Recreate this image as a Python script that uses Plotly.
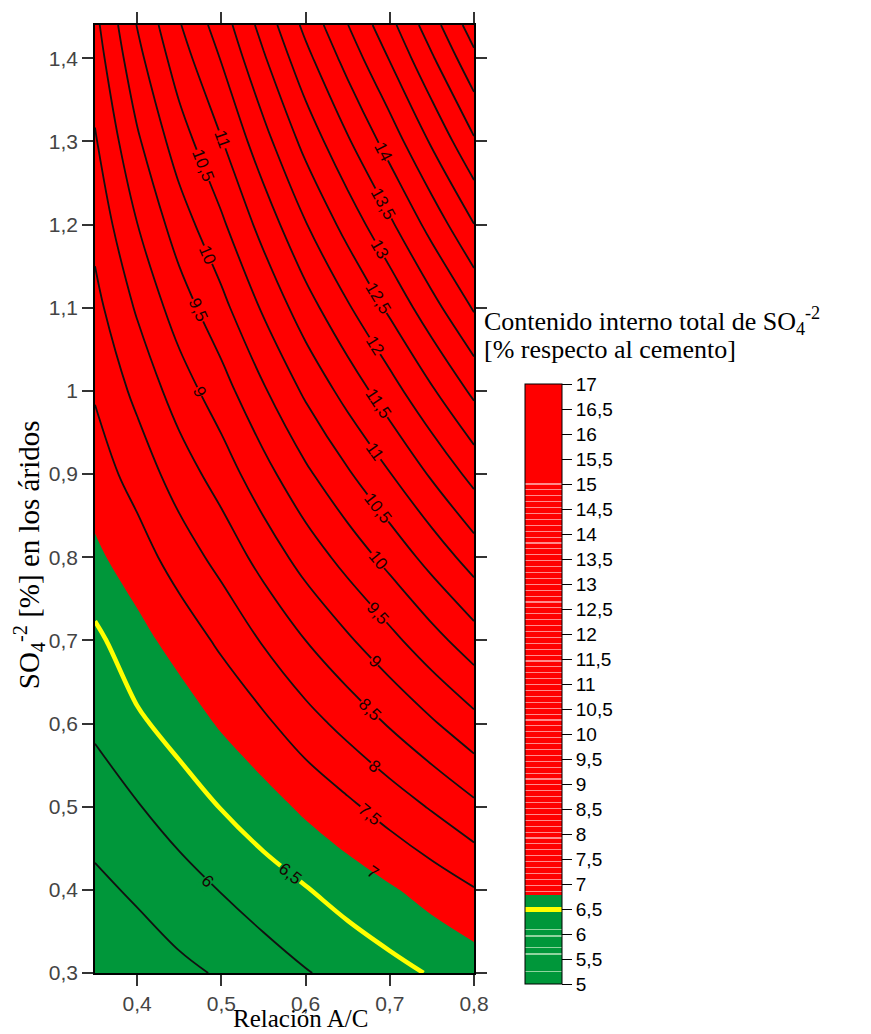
import numpy as np
import plotly.graph_objects as go

# ---- data ----
ac_ratio = [0.35, 0.40, 0.45, 0.50, 0.55, 0.60, 0.65, 0.70, 0.75, 0.80]
so4_aggr = [0.30, 0.40, 0.50, 0.60, 0.70, 0.80, 0.90, 1.00, 1.10, 1.20, 1.30, 1.40, 1.44]
so4_total = [
    [5.00, 5.20, 5.39, 5.55, 5.76, 5.97, 6.16, 6.34, 6.54, 6.72],
    [5.38, 5.58, 5.80, 6.02, 6.25, 6.47, 6.70, 6.94, 7.20, 7.47],
    [5.75, 5.97, 6.23, 6.52, 6.79, 7.10, 7.40, 7.72, 8.05, 8.40],
    [6.08, 6.41, 6.71, 7.06, 7.40, 7.80, 8.17, 8.55, 8.94, 9.34],
    [6.38, 6.83, 7.20, 7.60, 8.05, 8.50, 8.93, 9.36, 9.82, 10.28],
    [6.90, 7.27, 7.73, 8.17, 8.69, 9.21, 9.69, 10.17, 10.69, 11.23],
    [7.25, 7.70, 8.24, 8.73, 9.32, 9.90, 10.44, 10.98, 11.57, 12.17],
    [7.55, 8.13, 8.74, 9.29, 9.94, 10.59, 11.19, 11.79, 12.44, 13.11],
    [7.85, 8.56, 9.25, 9.85, 10.57, 11.28, 11.94, 12.60, 13.32, 14.05],
    [8.15, 8.99, 9.75, 10.41, 11.19, 11.97, 12.69, 13.41, 14.19, 14.99],
    [8.45, 9.42, 10.26, 10.97, 11.82, 12.66, 13.44, 14.22, 15.07, 15.94],
    [8.75, 9.85, 10.76, 11.53, 12.44, 13.35, 14.19, 15.03, 15.94, 16.88],
    [8.87, 10.02, 10.96, 11.75, 12.69, 13.63, 14.49, 15.35, 16.29, 17.26],
]
x_ticks = [0.4, 0.5, 0.6, 0.7, 0.8]
limit_value = 7.0        # green / red threshold
yellow_level = 6.5
cbar_min, cbar_max = 5, 17

# contour labels as they appear in the picture: (level, A/C where the label sits)
labels_left = [(11, 0.501), (10.5, 0.478), (10, 0.484), (9.5, 0.472), (9, 0.474)]
labels_right = [(14, 0.692), (13.5, 0.692), (13, 0.688), (12.5, 0.686), (12, 0.682),
                (11.5, 0.686), (11, 0.682), (10.5, 0.686), (10, 0.686), (9.5, 0.686),
                (9, 0.682), (8.5, 0.676), (8, 0.682), (7.5, 0.676), (7, 0.680)]
labels_low = [(6.5, 0.581), (6, 0.484)]

GREEN = "#00973a"
RED = "#ff0000"
SERIF = "Times New Roman, Liberation Serif, serif"
SANS = "Arial, Liberation Sans, sans-serif"

xs = np.array(ac_ratio)
ys = np.array(so4_aggr)
Z = np.array(so4_total)

# ---------- colour bar scale (discrete look, faint separators, yellow mark) ----------
def frac(v):
    return (v - cbar_min) / (cbar_max - cbar_min)

cb_top_green = 6.78
green_lines = [5.25, 5.6, 5.73, 5.96, 6.09]
red_lines = list(np.arange(15.0, 6.85, -0.118))
hw = 0.011
events = [(v - hw, v + hw, "#8fd49e") for v in green_lines]
events += [(v - hw, v + hw, "#ff8a8a") for v in red_lines]
events.append((6.45, 6.55, "#ffff00"))
events.sort()

def base(v):
    return GREEN if v < cb_top_green else RED

cs = []
cur = cbar_min
for a, b, col in events:
    if a > cur:
        if cur < cb_top_green < a:
            cs += [[frac(cur), GREEN], [frac(cb_top_green), GREEN],
                   [frac(cb_top_green), RED], [frac(a), RED]]
        else:
            cs += [[frac(cur), base(cur)], [frac(a), base(cur)]]
    cs += [[frac(a), col], [frac(b), col]]
    cur = b
if cur < cbar_max:
    cs += [[frac(cur), base(cur)], [1.0, base(cur)]]
cs[0][0] = 0.0
cs[-1][0] = 1.0

fig = go.Figure()

# two-colour fill: green below the limit, red above (vector contour fill)
fig.add_trace(go.Contour(
    x=ac_ratio, y=so4_aggr, z=so4_total, autocontour=False,
    contours=dict(start=limit_value, end=limit_value, size=1, coloring="fill",
                  showlines=False),
    colorscale=[[0, GREEN], [0.5, GREEN], [0.5, RED], [1, RED]],
    line=dict(width=0, smoothing=1),
    showscale=False, hoverinfo="skip"))

for start, end in [(5.5, 6.0), (7.5, 17.5)]:
    fig.add_trace(go.Contour(
        x=ac_ratio, y=so4_aggr, z=so4_total, autocontour=False,
        contours=dict(start=start, end=end, size=0.5, coloring="none", showlabels=False),
        line=dict(color="#111111", width=1.8, smoothing=1),
        showscale=False, hoverinfo="skip"))

fig.add_trace(go.Contour(
    x=ac_ratio, y=so4_aggr, z=so4_total, autocontour=False,
    contours=dict(start=yellow_level, end=yellow_level, size=1, coloring="none",
                  showlabels=False),
    line=dict(color="#ffff00", width=4.5, smoothing=1),
    showscale=False, hoverinfo="skip"))

# colour bar carrier (outside the visible range)
fig.add_trace(go.Scatter(
    x=[0.1], y=[0.1], mode="markers", hoverinfo="skip",
    marker=dict(color=[cbar_min], colorscale=cs, cmin=cbar_min, cmax=cbar_max,
                showscale=True,
                colorbar=dict(
                    x=(525 - 95) / 379, xanchor="left", xpad=0,
                    y=(973 - 381) / 953, yanchor="top", ypad=0,
                    len=600, lenmode="pixels", thickness=37,
                    outlinewidth=1, outlinecolor="black",
                    tickmode="linear", tick0=5, dtick=0.5,
                    ticks="outside", ticklen=10, tickwidth=1, tickcolor="black",
                    tickfont=dict(family=SANS, size=19, color="black")))))

# ---------- contour labels placed on the lines ----------
def value_at(x, y):
    col = np.array([np.interp(x, xs, row) for row in Z])
    return np.interp(y, ys, col)

def y_of_level(level, x):
    col = np.array([np.interp(x, xs, row) for row in Z])
    return float(np.interp(level, col, ys))

PX_X = 379 / 0.45
PX_Y = 953 / 1.14

ann = []
for level, xl in labels_left + labels_right + labels_low:
    yl = y_of_level(level, xl)
    h = 0.01
    dvdx = (value_at(xl + h, yl) - value_at(xl - h, yl)) / (2 * h)
    dvdy = (value_at(xl, yl + h) - value_at(xl, yl - h)) / (2 * h)
    gx = dvdx / PX_X
    gy = -dvdy / PX_Y
    ang = np.degrees(np.arctan2(gx, -gy))
    if level > limit_value:
        bg = RED
    elif level < limit_value:
        bg = GREEN
    else:
        bg = None
    txt = ("%g" % level).replace(".", ",")
    a = dict(text=txt, x=xl, y=yl, xref="x", yref="y", showarrow=False,
             textangle=float(ang), borderpad=0,
             font=dict(family=SANS, size=17, color="#1a0000"))
    if bg:
        a["bgcolor"] = bg
    ann.append(a)

axis_common = dict(showline=True, linecolor="black", linewidth=1.5, mirror="ticks",
                   ticks="outside", ticklen=11, tickwidth=1.5, tickcolor="#333",
                   showgrid=False, zeroline=False,
                   tickfont=dict(family=SANS, size=21, color="#444"))
fig.update_xaxes(range=[0.35, 0.8], tickvals=x_ticks, **axis_common)
fig.update_yaxes(range=[0.3, 1.44], tickmode="linear", tick0=0.3, dtick=0.1, **axis_common)

titles = [
    dict(text="Relación A/C", x=(300 - 95) / 379, y=(973 - 1034) / 953,
         xanchor="center", yanchor="bottom", font=dict(family=SERIF, size=25, color="black")),
    dict(text="SO<sub>4</sub><sup>-2</sup> [%] en los áridos", x=(29 - 95) / 379,
         y=(973 - 553) / 953, textangle=-90, xanchor="center", yanchor="middle",
         font=dict(family=SERIF, size=29, color="black")),
    dict(text="Contenido interno total de SO<sub>4</sub><sup>-2</sup>", x=(482 - 95) / 379,
         y=(973 - 318) / 953, xanchor="left", yanchor="middle",
         font=dict(family=SERIF, size=26, color="black")),
    dict(text="[% respecto al cemento]", x=(482 - 95) / 379,
         y=(973 - 346) / 953, xanchor="left", yanchor="middle",
         font=dict(family=SERIF, size=26, color="black")),
]
for a in titles:
    a.update(xref="paper", yref="paper", showarrow=False)

fig.update_layout(
    width=871, height=1034, margin=dict(l=95, r=397, t=20, b=61),
    paper_bgcolor="white", plot_bgcolor="white", showlegend=False,
    separators=",.", annotations=ann + titles)

fig.write_html("out.html")
